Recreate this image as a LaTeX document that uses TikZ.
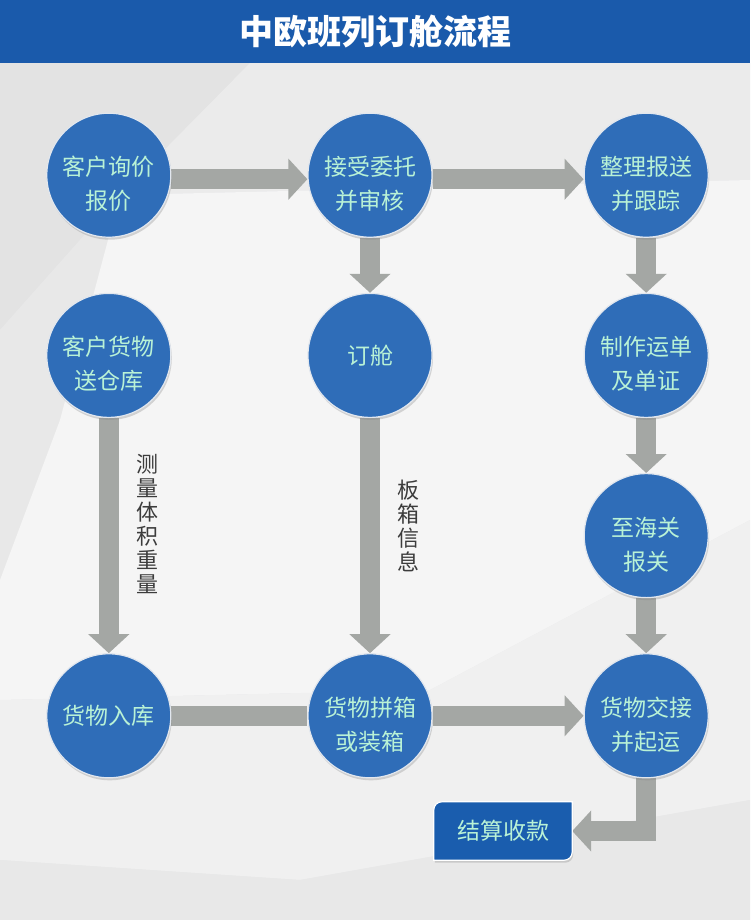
\documentclass[tikz,border=0pt]{standalone}
\usepackage{fontspec}
\newfontfamily\cjk{Noto Sans CJK SC}
\usetikzlibrary{matrix,backgrounds,arrows.meta,shadows}

\definecolor{paper}{HTML}{E8E9EB}
\definecolor{titleblue}{HTML}{1A5AAB}
\definecolor{stageblue}{HTML}{2F6DB8}
\definecolor{settleblue}{HTML}{1A5DAE}
\definecolor{stagetext}{HTML}{B9F2D6}
\definecolor{rimgray}{HTML}{E2E7EE}
\definecolor{flowgray}{HTML}{A4A7A4}
\definecolor{notegray}{HTML}{3C3C3C}

\pgfdeclarelayer{flowlayer}
\pgfsetlayers{background,flowlayer,main}

\begin{document}
\begin{tikzpicture}[x=1pt,y=-1pt,
        stage/.style={circle, draw=rimgray, line width=1.2pt, fill=stageblue, minimum size=124pt, inner sep=0pt,
        align=center, text=stagetext, font=\cjk\fontsize{23}{34}\selectfont,
        drop shadow={opacity=0.3, shadow xshift=1pt, shadow yshift=-2.5pt}},
        pair/.style={text height=72pt, text depth=3pt},
        grid/.style={column sep=136pt, row sep=55pt},
        flow/.style={draw=flowgray, line width=20pt, -{Triangle[width=40pt,length=19pt]}},
        bar/.style={draw=flowgray, line width=20pt},
        note/.style={inner sep=0pt, align=center, text=notegray, font=\cjk\fontsize{22}{24}\selectfont}]
        \useasboundingbox (0,0) rectangle (750,920);
        \begin{scope}[on background layer]
        \fill[paper] (0,0) rectangle (750,920);
        \fill[black!11] (0,63) -- (250,63) -- (120,195) -- (0,330) -- cycle;
        \fill[black!9] (0,330) -- (120,195) -- (60,420) -- (0,580) -- cycle;
        \fill[black!8] (250,63) -- (750,63) -- (750,180) -- (120,195) -- cycle;
        \fill[black!4] (120,195) -- (750,180) -- (750,520) -- (430,690) -- (0,700) -- (0,580) -- (60,420) -- cycle;
        \fill[black!6] (0,700) -- (430,690) -- (750,520) -- (750,800) -- (300,880) -- (0,860) -- cycle;
        \fill[black!9] (0,860) -- (300,880) -- (750,800) -- (750,920) -- (0,920) -- cycle;
        \fill[titleblue] (0,0) rectangle (750,63);
        \end{scope}
        \node[font=\cjk\bfseries\fontsize{34}{40}\selectfont, text=white] (title) at (375,32) {中欧班列订舱流程};
        \matrix[grid] (chart) at (377.5,445.5) {
        \node[stage,pair] (quote) {客户询价\\报价}; & \node[stage,pair] (accept) {接受委托\\并审核}; &[15pt] \node[stage,pair] (report) {整理报送\\并跟踪}; \\
        \node[stage,pair] (deliver) {客户货物\\送仓库}; & \node[stage] (book) {订舱}; &[15pt] \node[stage,pair] (waybill) {制作运单\\及单证}; \\
        & &[15pt] \node[stage,pair] (customs) {至海关\\报关}; \\
        \node[stage] (store) {货物入库}; & \node[stage,pair] (pack) {货物拼箱\\或装箱}; &[15pt] \node[stage,pair] (handover) {货物交接\\并起运}; \\};
        \node[minimum width=138pt, minimum height=58pt, text=stagetext, font=\cjk\fontsize{23}{28}\selectfont] (settle) at (503,831) {结算收款};
        \begin{pgfonlayer}{flowlayer}
        \draw[flow] ([yshift=-4pt]quote.east) -- ([yshift=-4pt]accept.west);
        \draw[flow] ([yshift=-4pt]accept.east) -- ([yshift=-4pt]report.west);
        \draw[flow] (accept.south) -- (book.north);
        \draw[flow] (report.south) -- (waybill.north);
        \draw[flow] (waybill.south) -- (customs.north);
        \draw[flow] (customs.south) -- (handover.north);
        \draw[flow] (deliver.south) -- (store.north) node[note, pos=0.45, right=18pt] (measure) {测\\量\\体\\积\\重\\量};
        \draw[flow] (book.south) -- (pack.north) node[note, pos=0.46, right=17pt] (boxinfo) {板\\箱\\信\\息};
        \draw[bar] (store.east) -- (pack.west);
        \draw[flow] (pack.east) -- (handover.west);
        \draw[flow] (handover.south) |- (settle.east);
        \filldraw[draw=white, line width=1.2pt, fill=settleblue, drop shadow={opacity=0.3, shadow xshift=1pt, shadow yshift=-2.5pt}]
            (settle.south west) -- ([yshift=-8pt]settle.north west) arc[start angle=180, end angle=90, radius=8pt]
            -- (settle.north east) -- ([yshift=8pt]settle.south east) arc[start angle=0, end angle=-90, radius=8pt] -- cycle;
        \end{pgfonlayer}
    \end{tikzpicture}
\end{document}
